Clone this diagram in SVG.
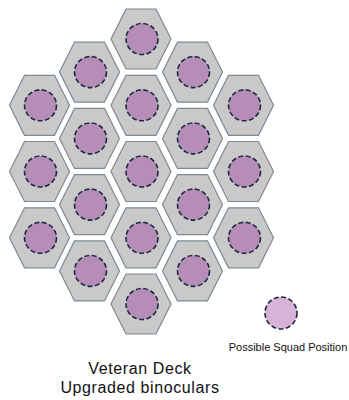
<svg xmlns="http://www.w3.org/2000/svg" width="349" height="400" viewBox="0 0 349 400">
<style>
.hex{fill:#c9c9c9;stroke:#7d8a94;stroke-width:1.2}
.pos{fill:#b68db6;stroke:#1e2a42;stroke-width:1.6;stroke-dasharray:5 2.5}
.leg{fill:#d8b3d8;stroke:#1e2a42;stroke-width:1.6;stroke-dasharray:5 2.5}
text{font-family:"Liberation Sans",Arial,sans-serif;fill:#111;text-anchor:middle}
.ttl{font-size:16px;letter-spacing:0.6px}
</style>
<defs>
<g id="cell">
<polygon class="hex" points="-30,0 -15,-30 15,-30 30,0 15,30 -15,30"/>
<ellipse class="pos" cx="1" cy="0" rx="16" ry="15.5"/>
</g>
</defs>
<g id="connectors"/>
<g id="node-c2r0"><use href="#cell" x="141" y="39"/></g>
<g id="node-c1r0"><use href="#cell" x="89.5" y="72.1"/></g>
<g id="node-c3r0"><use href="#cell" x="192.5" y="72.1"/></g>
<g id="node-c0r0"><use href="#cell" x="39.5" y="105.3"/></g>
<g id="node-c2r1"><use href="#cell" x="141" y="105.3"/></g>
<g id="node-c4r0"><use href="#cell" x="243.5" y="105.3"/></g>
<g id="node-c1r1"><use href="#cell" x="89.5" y="138.4"/></g>
<g id="node-c3r1"><use href="#cell" x="192.5" y="138.4"/></g>
<g id="node-c0r1"><use href="#cell" x="39.5" y="171.5"/></g>
<g id="node-c2r2"><use href="#cell" x="141" y="171.5"/></g>
<g id="node-c4r1"><use href="#cell" x="243.5" y="171.5"/></g>
<g id="node-c1r2"><use href="#cell" x="89.5" y="204.6"/></g>
<g id="node-c3r2"><use href="#cell" x="192.5" y="204.6"/></g>
<g id="node-c0r2"><use href="#cell" x="39.5" y="237.8"/></g>
<g id="node-c2r3"><use href="#cell" x="141" y="237.8"/></g>
<g id="node-c4r2"><use href="#cell" x="243.5" y="237.8"/></g>
<g id="node-c1r3"><use href="#cell" x="89.5" y="270.9"/></g>
<g id="node-c3r3"><use href="#cell" x="192.5" y="270.9"/></g>
<g id="node-c2r4"><use href="#cell" x="141" y="304"/></g>
<g id="legend">
<circle class="leg" cx="281" cy="313" r="16"/>
<text x="288" y="351" font-size="11">Possible Squad Position</text>
</g>
<g id="title">
<text class="ttl" x="140" y="374">Veteran Deck</text>
<text class="ttl" x="140" y="392.5">Upgraded binoculars</text>
</g>
</svg>
